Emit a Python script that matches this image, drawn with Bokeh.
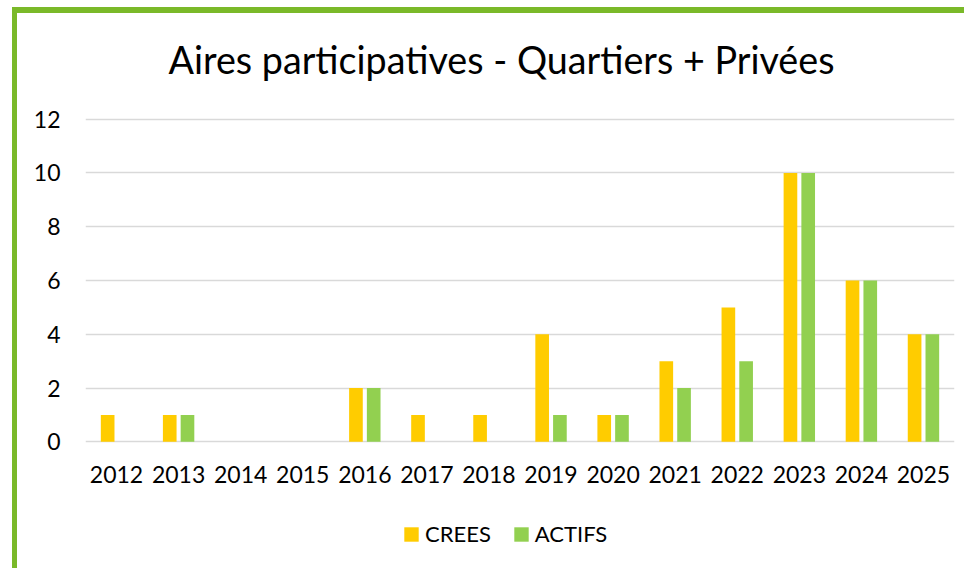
from bokeh.plotting import figure
from bokeh.models import FactorRange, Range1d, FixedTicker, Legend, LegendItem, Title, ColumnDataSource
from bokeh.layouts import column
from bokeh.transform import dodge
from bokeh.embed import file_html
from bokeh.resources import INLINE

years = ["2012", "2013", "2014", "2015", "2016", "2017", "2018", "2019",
         "2020", "2021", "2022", "2023", "2024", "2025"]
crees = [1, 1, 0, 0, 2, 1, 1, 4, 1, 3, 5, 10, 6, 4]
actifs = [0, 1, 0, 0, 2, 0, 0, 1, 1, 2, 3, 10, 6, 4]
y_ticks = [0, 2, 4, 6, 8, 10, 12]
series_names = ["CREES", "ACTIFS"]
title_text = "Aires participatives - Quartiers + Privées"

FONT = "Lato"
YELLOW = "#FFCC00"
GREEN = "#92D050"
GRID = "#D9D9D9"
FRAME_GREEN = "#7AB929"

src = ColumnDataSource(dict(years=years, crees=crees, actifs=actifs))

p = figure(frame_width=869, frame_height=328, x_range=FactorRange(*years, range_padding=0),
           y_range=Range1d(-0.1, 12.1), output_backend="svg", toolbar_location=None,
           min_border_left=68, min_border_right=10, min_border_top=103,
           min_border_bottom=60)
p.outline_line_color = None
p.background_fill_color = "white"
p.border_fill_color = "white"

# small blank spacer between the frame and the title
spacer = Title(text=" ", text_font=FONT, text_font_size="10px", standoff=19)
p.add_layout(spacer, "above")
t = Title(text=title_text, align="left", text_font=FONT, text_font_size="37.7px",
          text_font_style="normal", text_color="#000000", standoff=0, offset=83,
          vertical_align="top")
p.add_layout(t, "above")

p.vbar(x=dodge("years", -0.143, range=p.x_range), top="crees", width=0.22,
       source=src, fill_color=YELLOW, line_color=None)
p.vbar(x=dodge("years", 0.143, range=p.x_range), top="actifs", width=0.22,
       source=src, fill_color=GREEN, line_color=None)

p.xgrid.grid_line_color = None
p.ygrid.grid_line_color = GRID
p.ygrid.grid_line_width = 1.6
p.yaxis.ticker = FixedTicker(ticks=y_ticks)

for ax in (p.xaxis, p.yaxis):
    ax.axis_line_color = None
    ax.major_tick_line_color = None
    ax.minor_tick_line_color = None
    ax.major_tick_out = 0
    ax.major_tick_in = 0
    ax.major_label_text_font = FONT
    ax.major_label_text_font_size = "23px"
    ax.major_label_text_color = "#000000"
p.yaxis.major_label_standoff = 25
p.xaxis.major_label_standoff = 21

# legend strip below the chart (swatch renderers sit outside the visible range)
q = figure(width=947, height=64, x_range=Range1d(0, 1), y_range=Range1d(0, 1),
           x_axis_type=None, y_axis_type=None, output_backend="svg",
           toolbar_location=None, min_border=0)
q.outline_line_color = None
q.background_fill_color = "white"
q.border_fill_color = "white"
k1 = q.vbar(x=[-5], top=[-5], bottom=[-6], width=0.1, fill_color=YELLOW, line_color=None)
k2 = q.vbar(x=[-5], top=[-5], bottom=[-6], width=0.1, fill_color=GREEN, line_color=None)
legend = Legend(items=[LegendItem(label=series_names[0], renderers=[k1]),
                       LegendItem(label=series_names[1], renderers=[k2])],
                orientation="horizontal", location=(317, 21),
                label_text_font=FONT, label_text_font_size="22px",
                label_text_color="#000000",
                glyph_width=18, glyph_height=18, label_standoff=5, spacing=21,
                border_line_color=None, background_fill_alpha=0,
                margin=0, padding=0)
q.add_layout(legend, "center")

layout = column(p, q, spacing=0,
                styles={"margin-left": "12px", "margin-top": "7px",
                        "border-left": "5px solid " + FRAME_GREEN,
                        "border-top": "6px solid " + FRAME_GREEN})

open("out.html", "w").write(file_html(layout, INLINE))
